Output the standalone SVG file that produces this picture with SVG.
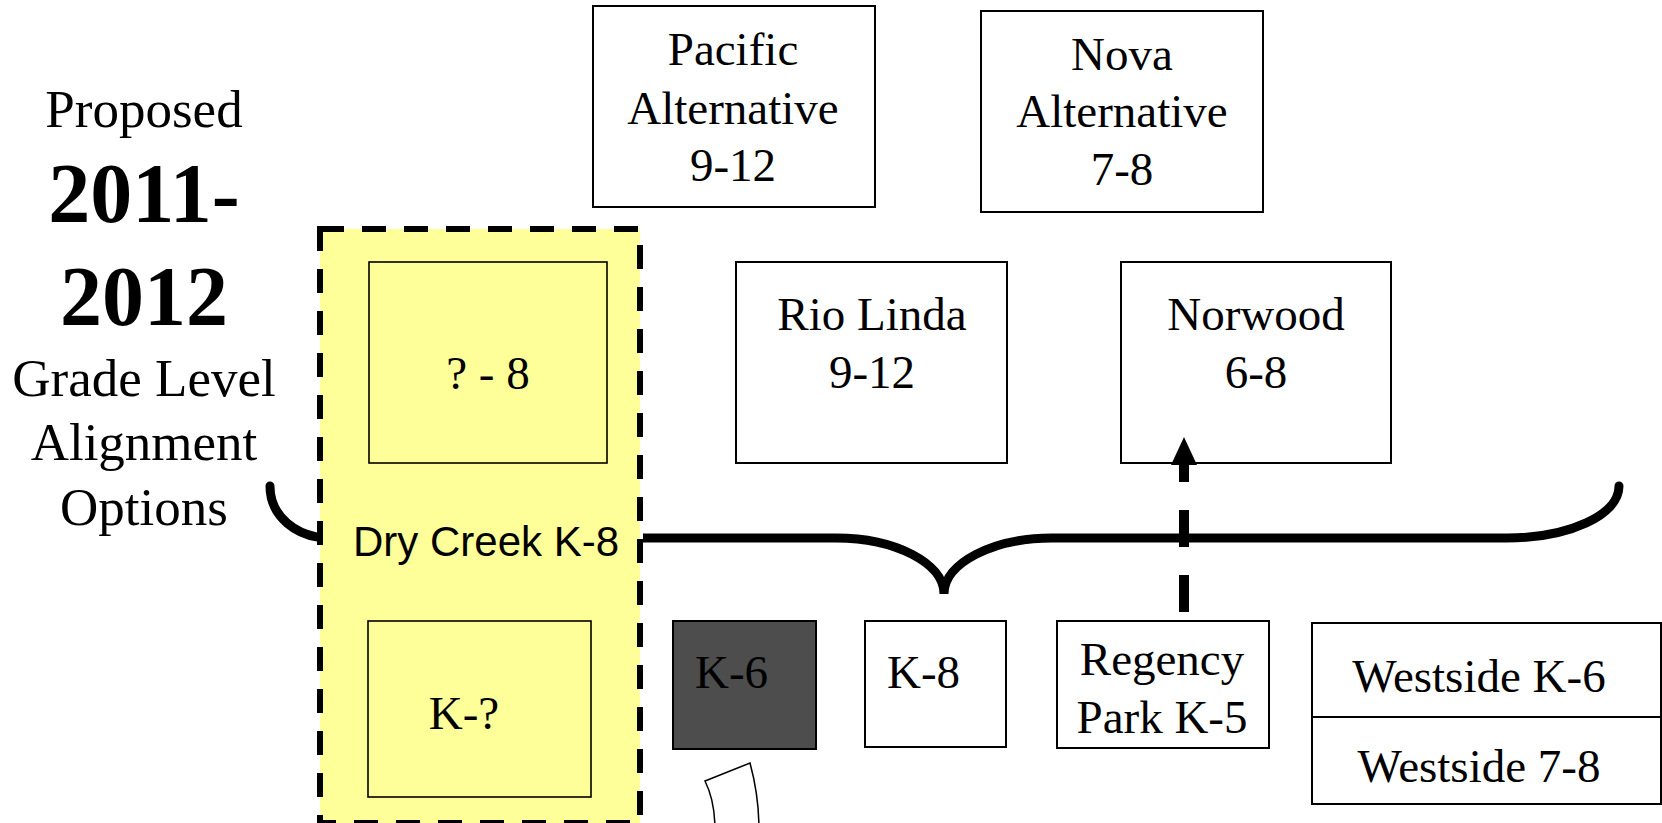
<svg xmlns="http://www.w3.org/2000/svg" width="1662" height="823" viewBox="0 0 1662 823">
<style>
.box{fill:#fff;stroke:#000;stroke-width:2}
.ybox{fill:#FFFF99;stroke:#000;stroke-width:1.6}
.t{font-family:"Liberation Serif","Times New Roman",serif;font-size:47px;fill:#000}
.c{text-anchor:middle}
.big{font-family:"Liberation Serif","Times New Roman",serif;font-size:53px;fill:#000;text-anchor:middle}
.year{font-family:"Liberation Serif","Times New Roman",serif;font-size:84px;font-weight:bold;fill:#000;text-anchor:middle}
.sans{font-family:"Liberation Sans",Arial,sans-serif;font-size:42px;fill:#000;text-anchor:middle}
</style>
<defs>
<clipPath id="outsideDry">
<path clip-rule="evenodd" d="M0 0 H1662 V823 H0 Z M317 226 H643 V823 H317 Z"/>
</clipPath>
</defs>
<rect width="1662" height="823" fill="#fff"/>
<g id="title">
<text class="big" x="144" y="127">Proposed</text>
<text class="year" x="144" y="222">2011-</text>
<text class="year" x="144" y="325">2012</text>
<text class="big" x="144" y="396">Grade Level</text>
<text class="big" x="144" y="460">Alignment</text>
<text class="big" x="144" y="525">Options</text>
</g>
<g id="drycreek">
<rect x="320" y="229" width="320" height="594" fill="#FFFF99" stroke="#000" stroke-width="6" stroke-dasharray="24 18"/>
<text class="sans" x="486" y="556">Dry Creek K-8</text>
</g>
<g id="q8">
<rect class="ybox" x="369" y="262" width="238" height="201"/>
<text class="t c" x="488" y="389">? - 8</text>
</g>
<g id="kq">
<rect class="ybox" x="368" y="621" width="223" height="176"/>
<text class="t c" x="464" y="729">K-?</text>
</g>
<g id="pacific">
<rect class="box" x="593" y="6" width="282" height="201"/>
<text class="t c" x="733" y="65">Pacific</text>
<text class="t c" x="733" y="124">Alternative</text>
<text class="t c" x="733" y="181">9-12</text>
</g>
<g id="nova">
<rect class="box" x="981" y="11" width="282" height="201"/>
<text class="t c" x="1122" y="70">Nova</text>
<text class="t c" x="1122" y="127">Alternative</text>
<text class="t c" x="1122" y="185">7-8</text>
</g>
<g id="riolinda">
<rect class="box" x="736" y="262" width="271" height="201"/>
<text class="t c" x="872" y="330">Rio Linda</text>
<text class="t c" x="872" y="388">9-12</text>
</g>
<g id="norwood">
<rect class="box" x="1121" y="262" width="270" height="201"/>
<text class="t c" x="1256" y="330">Norwood</text>
<text class="t c" x="1256" y="388">6-8</text>
</g>
<g id="k6">
<rect x="673" y="621" width="143" height="128" fill="#4D4D4D" stroke="#000" stroke-width="2"/>
<text class="t" x="695" y="688">K-6</text>
</g>
<g id="k8">
<rect class="box" x="865" y="621" width="141" height="126"/>
<text class="t" x="887" y="688">K-8</text>
</g>
<g id="regency">
<rect class="box" x="1057" y="621" width="212" height="127"/>
<text class="t c" x="1162" y="675">Regency</text>
<text class="t c" x="1162" y="733">Park K-5</text>
</g>
<g id="westside">
<rect class="box" x="1312" y="623" width="349" height="181"/>
<line x1="1312" y1="717" x2="1661" y2="717" stroke="#000" stroke-width="2"/>
<text class="t c" x="1479" y="692">Westside K-6</text>
<text class="t c" x="1479" y="782">Westside 7-8</text>
</g>
<g id="scroll">
<path d="M 705 781 L 750 763 C 756 785 759 805 759 830 L 715 830 C 715 810 712 795 705 781 Z" fill="#fff" stroke="#000" stroke-width="1.5"/>
</g>
<g id="connectors" fill="none" stroke="#000">
<path id="brace" clip-path="url(#outsideDry)" stroke-width="9" stroke-linecap="round" d="M 270 486 C 270 516 296 538 330 538 L 836 538 C 895 538 944 563 944 594 C 944 563 993 538 1052 538 L 1507 538 C 1569 538 1619 515 1619 486"/>
<path id="arrow-regency-norwood" stroke-width="10" stroke-dasharray="37 28" d="M 1184 612 L 1184 465"/>
<polygon points="1184,437 1171,465 1197,465" fill="#000" stroke="none"/>
</g>
</svg>
